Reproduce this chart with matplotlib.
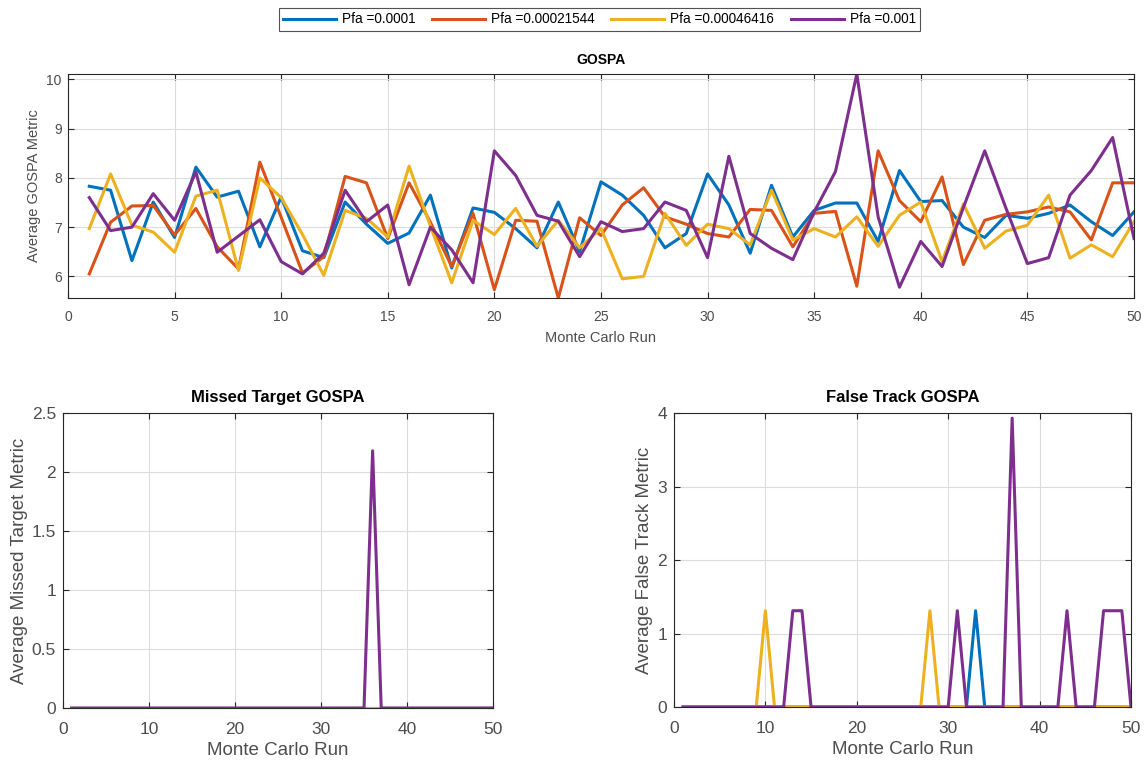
import numpy as np
import matplotlib
matplotlib.use("Agg")
import matplotlib.pyplot as plt

plt.rcParams['font.family'] = ['Liberation Sans', 'DejaVu Sans']

# Datos
runs = np.arange(1, 51)
labels = ['Pfa =0.0001', 'Pfa =0.00021544', 'Pfa =0.00046416', 'Pfa =0.001']
colors = ['#0072BD', '#D95319', '#EDB120', '#7E2F8E']

gospa_1 = [7.83, 7.75, 6.32, 7.51, 6.79, 8.22, 7.61, 7.73, 6.60, 7.61,
           6.52, 6.38, 7.51, 7.06, 6.67, 6.88, 7.65, 6.17, 7.39, 7.30,
           6.97, 6.58, 7.51, 6.50, 7.92, 7.65, 7.24, 6.58, 6.87, 8.08,
           7.45, 6.47, 7.85, 6.80, 7.34, 7.49, 7.49, 6.71, 8.15, 7.52,
           7.54, 7.00, 6.79, 7.24, 7.18, 7.28, 7.45, 7.11, 6.83, 7.31]
gospa_2 = [6.05, 7.10, 7.43, 7.44, 6.84, 7.38, 6.60, 6.15, 8.32, 7.20,
           6.07, 6.40, 8.03, 7.90, 6.77, 7.90, 7.10, 6.20, 7.28, 5.73,
           7.14, 7.12, 5.56, 7.19, 6.83, 7.45, 7.80, 7.21, 7.06, 6.87,
           6.80, 7.36, 7.34, 6.60, 7.28, 7.32, 5.80, 8.55, 7.54, 7.11,
           8.02, 6.24, 7.14, 7.26, 7.31, 7.41, 7.31, 6.74, 7.90, 7.90]
gospa_3 = [6.97, 8.08, 7.04, 6.90, 6.49, 7.63, 7.75, 6.12, 8.00, 7.60,
           6.85, 6.02, 7.34, 7.18, 6.80, 8.24, 7.02, 5.87, 7.14, 6.85,
           7.38, 6.61, 7.14, 6.58, 6.97, 5.95, 6.00, 7.28, 6.63, 7.06,
           6.97, 6.64, 7.75, 6.74, 6.97, 6.80, 7.21, 6.61, 7.24, 7.51,
           6.30, 7.47, 6.57, 6.92, 7.04, 7.65, 6.37, 6.64, 6.40, 7.11]
gospa_4 = [7.60, 6.93, 7.00, 7.68, 7.14, 8.12, 6.49, 6.82, 7.15, 6.30,
           6.05, 6.47, 7.75, 7.11, 7.45, 5.83, 7.00, 6.54, 5.87, 8.55,
           8.05, 7.24, 7.12, 6.40, 7.11, 6.91, 6.97, 7.51, 7.34, 6.38,
           8.44, 6.87, 6.57, 6.34, 7.31, 8.13, 10.11, 7.21, 5.78, 6.71,
           6.20, 7.40, 8.55, 7.38, 6.26, 6.38, 7.65, 8.15, 8.82, 6.77]

# Missed target: solo un pico en la corrida 36
missed_1 = np.zeros(50)
missed_2 = np.zeros(50)
missed_3 = np.zeros(50)
missed_4 = np.zeros(50)
missed_4[36 - 1] = 2.18

# False track
false_1 = np.zeros(50)
false_2 = np.zeros(50)
false_3 = np.zeros(50)
false_4 = np.zeros(50)
false_1[[33 - 1]] = 1.31
false_3[[10 - 1, 28 - 1]] = 1.31
false_4[[13 - 1, 14 - 1, 31 - 1, 43 - 1, 47 - 1, 48 - 1, 49 - 1]] = 1.31
false_4[37 - 1] = 3.93

gospa = [gospa_1, gospa_2, gospa_3, gospa_4]
missed = [missed_1, missed_2, missed_3, missed_4]
false_t = [false_1, false_2, false_3, false_4]


def estilo(ax, fs, xpad, ypad):
    # Estilo tipo MATLAB
    ax.grid(True, color='#dcdcdc', linewidth=0.8)
    ax.set_axisbelow(True)
    ax.tick_params(direction='in', top=True, right=True, length=4,
                   labelsize=fs, colors='#262626', labelcolor='#4d4d4d')
    ax.tick_params(axis='x', pad=xpad)
    ax.tick_params(axis='y', pad=ypad)
    for s in ax.spines.values():
        s.set_color('#262626')
        s.set_linewidth(0.8)


fig = plt.figure(figsize=(11.46, 7.64), dpi=100)

ax1 = fig.add_axes([0.0593, 0.6099, 0.9302, 0.2932])
lines = []
for y, c, lab in zip(gospa, colors, labels):
    ln, = ax1.plot(runs, y, color=c, lw=2.2, label=lab)
    lines.append(ln)
ax1.set_xlim(0, 50)
ax1.set_ylim(5.56, 10.11)
ax1.set_xticks(np.arange(0, 51, 5))
ax1.set_yticks([6, 7, 8, 9, 10])
estilo(ax1, 10, 8.5, 4.5)
ax1.set_title('GOSPA', fontsize=10, fontweight='bold', color='black', pad=7)
ax1.set_xlabel('Monte Carlo Run', fontsize=10.5, color='#4d4d4d', labelpad=5)
ax1.set_ylabel('Average GOSPA Metric', fontsize=10.5, color='#4d4d4d', labelpad=4)

ax2 = fig.add_axes([0.055, 0.0733, 0.3752, 0.3861])
for y, c in zip(missed, colors):
    ax2.plot(runs, y, color=c, lw=2.2)
ax2.set_xlim(0, 50)
ax2.set_ylim(0, 2.5)
ax2.set_xticks(np.arange(0, 51, 10))
ax2.set_yticks(np.arange(0, 2.51, 0.5))
ax2.set_yticklabels(['0', '0.5', '1', '1.5', '2', '2.5'])
estilo(ax2, 12.5, 10, 5)
ax2.set_title('Missed Target GOSPA', fontsize=12, fontweight='bold', color='black', pad=8)
ax2.set_xlabel('Monte Carlo Run', fontsize=13.5, color='#4d4d4d', labelpad=4)
ax2.set_ylabel('Average Missed Target Metric', fontsize=13.5, color='#4d4d4d', labelpad=3)

ax3 = fig.add_axes([0.5881, 0.0746, 0.3988, 0.3848])
for y, c in zip(false_t, colors):
    ax3.plot(runs, y, color=c, lw=2.2)
ax3.set_xlim(0, 50)
ax3.set_ylim(0, 4)
ax3.set_xticks(np.arange(0, 51, 10))
ax3.set_yticks([0, 1, 2, 3, 4])
estilo(ax3, 12.5, 10, 5)
ax3.set_title('False Track GOSPA', fontsize=12, fontweight='bold', color='black', pad=8)
ax3.set_xlabel('Monte Carlo Run', fontsize=13.5, color='#4d4d4d', labelpad=4)
ax3.set_ylabel('Average False Track Metric', fontsize=13.5, color='#4d4d4d', labelpad=3)

leg = fig.legend(handles=lines, loc='center', bbox_to_anchor=(0.523, 0.9745),
                 ncol=4, fontsize=9.8, frameon=True, fancybox=False,
                 handlelength=3.9, handletextpad=0.45, columnspacing=1.2,
                 borderpad=0.3)
leg.get_frame().set_edgecolor('#262626')
leg.get_frame().set_linewidth(0.8)

fig.savefig('out.png', dpi=100)
